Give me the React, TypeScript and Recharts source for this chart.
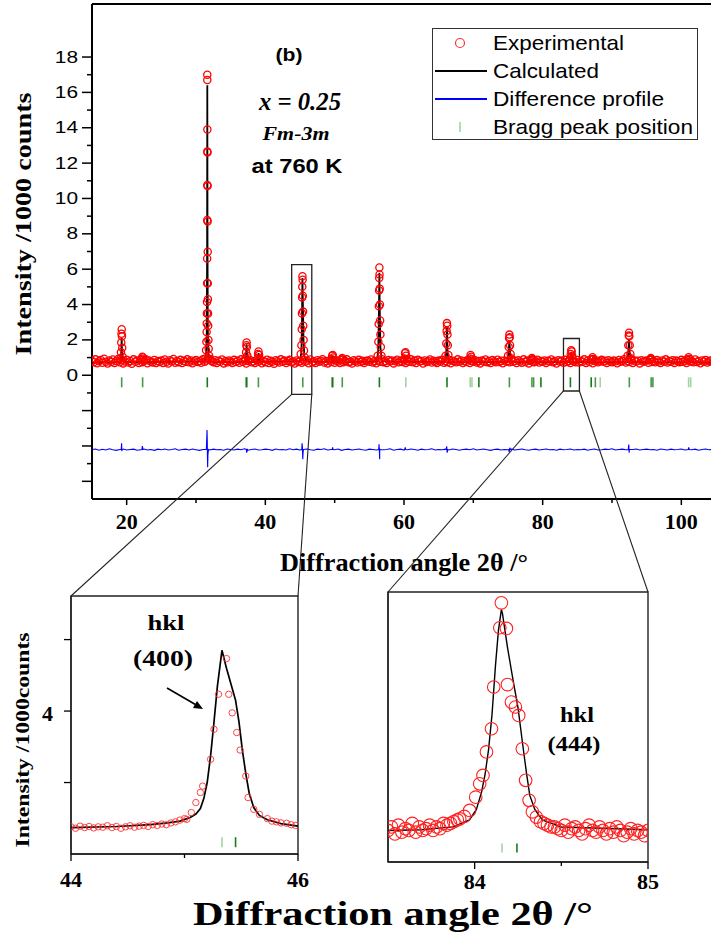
import React from 'react';
import {
  ComposedChart, Scatter, Line, XAxis, YAxis, ReferenceLine, ReferenceArea, Legend
} from 'recharts';

const SERIF = '"Liberation Serif", "Times New Roman", serif';
const SANS = '"Liberation Sans", Arial, sans-serif';

// ---- main pattern data (2θ in degrees, intensity in 1000 counts) ----
const BG_START = 15;
const BG_STEP = 0.25;
// observed background, one value per 0.25° from 15 to 105
const expBackground = [
  0.82, 0.74, 0.9, 0.68, 0.79, 0.86, 0.71, 0.93, 0.77, 0.66, 0.84, 0.75, 0.89, 0.7, 0.8, 0.92, 0.73, 0.85, 0.67, 0.78,
  0.88, 0.72, 0.81, 0.65, 0.9, 0.76, 0.83, 0.7, 0.87, 0.74, 0.79, 0.91, 0.68, 0.84, 0.77, 0.72, 0.86, 0.69, 0.8, 0.75,
  0.83, 0.7, 0.89, 0.76, 0.66, 0.85, 0.78, 0.92, 0.71, 0.8, 0.74, 0.87, 0.69, 0.82, 0.77, 0.9, 0.73, 0.84, 0.68, 0.79,
  0.86, 0.75, 0.81, 0.71, 0.9, 0.77, 0.83, 0.95, 0.88, 0.8, 0.74, 0.85, 0.7, 0.82, 0.76, 0.89, 0.67, 0.8, 0.73, 0.84,
  0.78, 0.69, 0.87, 0.75, 0.82, 0.71, 0.9, 0.77, 0.84, 0.66, 0.8, 0.88, 0.73, 0.79, 0.7, 0.86, 0.76, 0.83, 0.68, 0.81,
  0.74, 0.88, 0.7, 0.82, 0.77, 0.65, 0.85, 0.79, 0.72, 0.9, 0.76, 0.83, 0.69, 0.81, 0.87, 0.73, 0.78, 0.66, 0.84, 0.75,
  0.8, 0.71, 0.86, 0.77, 0.83, 0.68, 0.89, 0.74, 0.79, 0.7, 0.85, 0.76, 0.82, 0.91, 0.72, 0.8, 0.67, 0.84, 0.75, 0.88,
  0.71, 0.83, 0.78, 0.69, 0.86, 0.74, 0.81, 0.9, 0.73, 0.77, 0.66, 0.85, 0.79, 0.72, 0.87, 0.75, 0.82, 0.7, 0.8, 0.84,
  0.76, 0.89, 0.72, 0.81, 0.68, 0.84, 0.77, 0.92, 0.74, 0.8, 0.7, 0.86, 0.78, 0.83, 0.67, 0.79, 0.88, 0.73, 0.82, 0.75,
  0.85, 0.7, 0.8, 0.76, 0.9, 0.73, 0.83, 0.69, 0.87, 0.78, 0.81, 0.66, 0.84, 0.75, 0.79, 0.89, 0.72, 0.82, 0.77, 0.7,
  0.83, 0.76, 0.88, 0.71, 0.8, 0.74, 0.86, 0.68, 0.82, 0.79, 0.73, 0.9, 0.77, 0.84, 0.7, 0.81, 0.75, 0.87, 0.69, 0.8,
  0.78, 0.85, 0.72, 0.8, 0.67, 0.83, 0.76, 0.89, 0.74, 0.81, 0.7, 0.86, 0.79, 0.73, 0.88, 0.75, 0.82, 0.68, 0.84, 0.77,
  0.8, 0.73, 0.87, 0.76, 0.82, 0.69, 0.85, 0.78, 0.71, 0.9, 0.75, 0.83, 0.67, 0.8, 0.86, 0.74, 0.79, 0.88, 0.72, 0.81,
  0.76, 0.84, 0.7, 0.82, 0.78, 0.89, 0.73, 0.8, 0.66, 0.85, 0.77, 0.83, 0.71, 0.87, 0.75, 0.81, 0.69, 0.84, 0.79, 0.74,
  0.86, 0.72, 0.81, 0.77, 0.9, 0.7, 0.83, 0.75, 0.88, 0.68, 0.8, 0.84, 0.73, 0.79, 0.87, 0.76, 0.82, 0.7, 0.85, 0.78,
  0.74, 0.83, 0.79, 0.68, 0.86, 0.77, 0.81, 0.91, 0.72, 0.8, 0.75, 0.87, 0.7, 0.84, 0.78, 0.82, 0.67, 0.85, 0.76, 0.8,
  0.83, 0.71, 0.88, 0.75, 0.8, 0.73, 0.86, 0.78, 0.69, 0.84, 0.77, 0.9, 0.72, 0.81, 0.76, 0.85, 0.7, 0.83, 0.79, 0.74,
  0.87, 0.76, 0.82, 0.7, 0.85, 0.78, 0.8, 0.73, 0.89, 0.75, 0.81, 0.68, 0.84, 0.77, 0.86, 0.72, 0.8, 0.83, 0.75, 0.79,
  0.82,
];

// observed points on the reflections [2θ, I]
const expPeaks = [
  [19.12, 0.95], [19.18, 1.3], [19.22, 1.85], [19.26, 2.35], [19.29, 2.6], [19.32, 2.2], [19.36, 1.55], [19.42, 1.05],
  [22.15, 0.9], [22.25, 1.05], [22.35, 1.0], [22.45, 0.88],
  [31.35, 0.95], [31.45, 1.42], [31.5, 1.89], [31.53, 2.45], [31.55, 2.93], [31.57, 3.5], [31.59, 4.15], [31.6, 5.2],
  [31.61, 6.61], [31.62, 8.78], [31.63, 10.76], [31.63, 12.65], [31.64, 13.9], [31.63, 16.7], [31.63, 17.0],
  [31.66, 12.6], [31.67, 10.7], [31.68, 8.7], [31.69, 6.99], [31.7, 5.2], [31.72, 4.3], [31.74, 3.5], [31.76, 2.8],
  [31.79, 2.0], [31.83, 1.5], [31.9, 1.1], [32.0, 0.92],
  [37.15, 0.95], [37.22, 1.3], [37.27, 1.7], [37.3, 1.85], [37.34, 1.6], [37.4, 1.1],
  [38.85, 0.9], [38.95, 1.2], [39.02, 1.35], [39.1, 1.15], [39.2, 0.9],
  [45.1, 1.2], [45.2, 1.7], [45.25, 2.6], [45.28, 3.5], [45.3, 4.4], [45.33, 5.0], [45.35, 5.6], [45.38, 5.4],
  [45.41, 4.5], [45.44, 3.6], [45.47, 2.8], [45.52, 2.0], [45.58, 1.4], [45.68, 1.0],
  [49.55, 0.9], [49.65, 1.1], [49.72, 1.15], [49.8, 1.0],
  [51.0, 0.9], [51.1, 0.98], [51.2, 0.88],
  [56.2, 1.1], [56.3, 1.9], [56.35, 2.9], [56.38, 3.9], [56.41, 4.8], [56.43, 5.5], [56.45, 6.1], [56.47, 5.7],
  [56.5, 4.9], [56.53, 4.0], [56.56, 3.1], [56.6, 2.3], [56.66, 1.6], [56.75, 1.1],
  [60.05, 0.95], [60.15, 1.25], [60.22, 1.3], [60.3, 1.1], [60.4, 0.9],
  [66.0, 1.1], [66.1, 1.8], [66.15, 2.5], [66.19, 2.95], [66.23, 2.8], [66.27, 2.3], [66.32, 1.7], [66.4, 1.15],
  [69.5, 0.95], [69.6, 1.15], [69.7, 1.05], [69.8, 0.9],
  [75.0, 1.1], [75.1, 1.6], [75.16, 2.1], [75.2, 2.3], [75.25, 2.15], [75.3, 1.7], [75.38, 1.2], [75.5, 0.95],
  [78.35, 0.88], [78.45, 0.97], [78.55, 0.9],
  [83.95, 0.95], [84.05, 1.2], [84.12, 1.42], [84.18, 1.35], [84.26, 1.1], [84.35, 0.92],
  [87.1, 0.9], [87.2, 1.02], [87.3, 0.92],
  [92.25, 1.1], [92.35, 1.7], [92.42, 2.25], [92.46, 2.4], [92.5, 2.2], [92.56, 1.7], [92.65, 1.2], [92.78, 0.95],
  [95.5, 0.88], [95.6, 0.97], [95.7, 0.9],
  [100.9, 0.9], [101.05, 1.02], [101.2, 0.92],
];

// calculated profile [2θ, I]
const calcProfile = [
  [15, 0.72],
  [19.0, 0.74], [19.18, 0.95], [19.24, 1.5], [19.28, 2.1], [19.32, 1.45], [19.4, 0.92], [19.6, 0.75],
  [22.1, 0.73], [22.25, 0.82], [22.4, 0.74],
  [31.2, 0.78], [31.45, 1.1], [31.55, 2.2], [31.6, 6.5], [31.63, 16.4], [31.66, 7.5], [31.7, 2.6], [31.8, 1.2], [32.05, 0.82], [32.5, 0.74],
  [37.1, 0.74], [37.22, 1.05], [37.3, 1.75], [37.36, 1.05], [37.5, 0.75],
  [38.85, 0.74], [38.96, 0.98], [39.02, 1.25], [39.1, 0.95], [39.25, 0.74],
  [45.0, 0.8], [45.2, 1.3], [45.28, 2.8], [45.35, 5.5], [45.42, 3.9], [45.5, 2.0], [45.62, 1.1], [45.9, 0.78],
  [49.55, 0.74], [49.7, 1.05], [49.85, 0.75],
  [51.0, 0.73], [51.1, 0.88], [51.2, 0.73],
  [56.1, 0.78], [56.3, 1.5], [56.4, 4.0], [56.45, 5.8], [56.5, 3.8], [56.6, 1.6], [56.8, 0.8],
  [60.05, 0.74], [60.18, 1.05], [60.3, 0.75],
  [65.95, 0.76], [66.1, 1.3], [66.2, 2.75], [66.28, 1.3], [66.45, 0.76],
  [69.45, 0.73], [69.6, 1.0], [69.75, 0.74],
  [74.95, 0.76], [75.1, 1.3], [75.2, 1.95], [75.3, 1.25], [75.5, 0.76],
  [78.3, 0.73], [78.45, 0.85], [78.6, 0.73],
  [83.9, 0.75], [84.05, 1.0], [84.13, 1.3], [84.22, 1.05], [84.35, 0.76],
  [87.05, 0.73], [87.2, 0.9], [87.35, 0.73],
  [92.2, 0.76], [92.36, 1.3], [92.45, 2.05], [92.55, 1.25], [92.75, 0.76],
  [95.45, 0.73], [95.6, 0.85], [95.75, 0.73],
  [100.85, 0.73], [101.05, 0.9], [101.25, 0.73],
  [105, 0.72],
];

// difference profile, one value per 0.5° from 15 to 105, plus the wiggles at the reflections
const DIFF_START = 15;
const DIFF_STEP = 0.5;
const diffBackground = [
  -4.2, -4.17, -4.24, -4.19, -4.23, -4.16, -4.21, -4.25, -4.2, -4.17, -4.23, -4.2, -4.18, -4.24, -4.21, -4.17, -4.23, -4.2, -4.25, -4.18,
  -4.21, -4.17, -4.23, -4.2, -4.16, -4.24, -4.2, -4.18, -4.23, -4.17, -4.21, -4.25, -4.2, -4.16, -4.23, -4.18, -4.21, -4.2, -4.24, -4.17,
  -4.2, -4.23, -4.18, -4.21, -4.16, -4.24, -4.2, -4.17, -4.23, -4.21, -4.18, -4.2, -4.25, -4.17, -4.21, -4.2, -4.23, -4.16, -4.21, -4.18,
  -4.23, -4.2, -4.17, -4.21, -4.24, -4.18, -4.2, -4.16, -4.23, -4.2, -4.21, -4.17, -4.25, -4.2, -4.18, -4.23, -4.2, -4.17, -4.21, -4.24,
  -4.18, -4.2, -4.23, -4.17, -4.21, -4.2, -4.16, -4.24, -4.2, -4.18, -4.23, -4.21, -4.17, -4.2, -4.24, -4.18, -4.21, -4.2, -4.16, -4.23,
  -4.2, -4.21, -4.18, -4.23, -4.17, -4.2, -4.24, -4.2, -4.18, -4.21, -4.16, -4.23, -4.2, -4.17, -4.21, -4.25, -4.2, -4.18, -4.23, -4.2,
  -4.21, -4.18, -4.23, -4.2, -4.17, -4.21, -4.24, -4.2, -4.18, -4.23, -4.2, -4.17, -4.21, -4.2, -4.24, -4.18, -4.21, -4.2, -4.17, -4.23,
  -4.2, -4.21, -4.18, -4.24, -4.2, -4.17, -4.23, -4.21, -4.18, -4.2, -4.16, -4.23, -4.2, -4.18, -4.21, -4.24, -4.2, -4.17, -4.23, -4.2,
  -4.18, -4.21, -4.2, -4.24, -4.17, -4.2, -4.23, -4.18, -4.21, -4.2, -4.17, -4.23, -4.2, -4.21, -4.18, -4.24, -4.2, -4.17, -4.21, -4.2,
  -4.2,
];
const diffPeaks = [
  [19.22, -4.2], [19.27, -3.85], [19.3, -4.3], [19.35, -4.2],
  [22.2, -4.2], [22.27, -4.0], [22.35, -4.2],
  [31.45, -4.2], [31.55, -3.6], [31.59, -3.1], [31.62, -3.6], [31.65, -4.6], [31.68, -5.2], [31.72, -4.5], [31.8, -4.2],
  [37.25, -4.2], [37.32, -4.38], [37.4, -4.2],
  [45.25, -4.2], [45.3, -3.85], [45.35, -4.1], [45.4, -4.75], [45.45, -4.35], [45.52, -4.2],
  [49.65, -4.2], [49.7, -4.08], [49.78, -4.2],
  [56.35, -4.2], [56.4, -3.9], [56.45, -4.3], [56.49, -4.75], [56.55, -4.2],
  [60.1, -4.2], [60.18, -4.08], [60.25, -4.2],
  [66.1, -4.2], [66.16, -4.02], [66.22, -4.38], [66.3, -4.2],
  [75.1, -4.2], [75.18, -4.35], [75.26, -4.1], [75.32, -4.2],
  [92.35, -4.2], [92.42, -3.92], [92.48, -4.38], [92.55, -4.2],
  [101.0, -4.2], [101.06, -4.08], [101.15, -4.2],
];

// Bragg reflection markers: position and shade (d = dark, m = medium, l = light)
const braggPos = [19.28, 22.3, 31.63, 37.25, 37.32, 39.0, 45.4, 49.65, 49.72, 51.1, 56.45, 60.26, 66.2, 69.55, 69.8, 70.8, 75.2, 78.45, 78.7, 79.75, 84.0, 87.0, 87.6, 88.3, 92.5, 95.65, 95.9, 101.05, 101.35];
const braggShade = ['m', 'm', 'd', 'd', 'd', 'm', 'm', 'd', 'd', 'm', 'd', 'l', 'd', 'l', 'l', 'd', 'm', 'm', 'm', 'd', 'd', 'd', 'm', 'l', 'm', 'm', 'm', 'l', 'l'];
const BRAGG_LEVEL = -0.4;

const mainXTicks = [20, 30, 40, 50, 60, 70, 80, 90, 100];
const mainXLabels = [20, 40, 60, 80, 100];
const mainYTicks = [-6, -5, -4, -3, -2, -1, 0, 1, 2, 3, 4, 5, 6, 7, 8, 9, 10, 11, 12, 13, 14, 15, 16, 17, 18];

// ---- inset (400) ----
const IN1_START = 44.0;
const IN1_STEP = 0.04;
const in1Background = [0.76, 0.72, 0.78, 0.74, 0.77, 0.73, 0.76, 0.75, 0.79, 0.74, 0.77, 0.72, 0.76, 0.79, 0.75, 0.78, 0.8, 0.77, 0.82, 0.8];
const in1Peak = [
  [44.8, 0.84], [44.84, 0.82], [44.88, 0.87], [44.92, 0.9], [44.96, 0.95], [45.0, 0.99], [45.02, 0.97], [45.06, 1.16],
  [45.1, 1.44], [45.14, 1.72], [45.16, 1.9], [45.23, 2.65], [45.26, 3.49], [45.3, 4.47], [45.37, 5.47], [45.39, 4.47],
  [45.42, 3.95], [45.46, 3.4], [45.49, 2.91], [45.54, 2.18], [45.56, 1.58], [45.61, 1.25], [45.66, 1.11], [45.73, 0.99],
  [45.77, 0.92], [45.81, 0.9], [45.85, 0.87], [45.9, 0.86], [45.94, 0.82], [45.98, 0.8],
];
const in1Calc = [
  [44.0, 0.74], [44.4, 0.77], [44.7, 0.82], [44.85, 0.87], [44.96, 0.92], [45.05, 1.02], [45.1, 1.12], [45.14, 1.27],
  [45.17, 1.55], [45.2, 2.0], [45.23, 2.75], [45.26, 3.7], [45.29, 4.7], [45.33, 5.7], [45.37, 5.2], [45.41, 4.75],
  [45.45, 4.3], [45.48, 3.7], [45.51, 2.9], [45.54, 2.25], [45.57, 1.7], [45.61, 1.3], [45.66, 1.08], [45.73, 0.96],
  [45.85, 0.85], [46.0, 0.78],
];
const in1Bragg = [[45.33, 'l'], [45.45, 'd']];

// ---- inset (444) ----
const IN2_LEFT_START = 83.5;
const IN2_RIGHT_START = 84.46;
const IN2_STEP = 0.02;
const in2LeftBackground = [0.75, 0.76, 0.74, 0.765, 0.745, 0.755, 0.75, 0.77, 0.745, 0.76, 0.75, 0.755, 0.765, 0.75, 0.76, 0.755, 0.77, 0.765];
const in2RightBackground = [0.76, 0.755, 0.75, 0.765, 0.745, 0.755, 0.76, 0.75, 0.74, 0.755, 0.765, 0.75, 0.745, 0.76, 0.75, 0.74, 0.755, 0.745, 0.76, 0.75, 0.735, 0.745, 0.755, 0.74, 0.75, 0.745, 0.735, 0.75];
const in2Peak = [
  [83.86, 0.77], [83.88, 0.775], [83.9, 0.78], [83.914, 0.783], [83.94, 0.79], [83.971, 0.807], [84.006, 0.845],
  [84.029, 0.883], [84.048, 0.907], [84.068, 0.974], [84.097, 1.04], [84.11, 1.159], [84.145, 1.328], [84.154, 1.399],
  [84.183, 1.326], [84.189, 1.166], [84.212, 1.116], [84.235, 1.102], [84.254, 1.078], [84.275, 0.983], [84.294, 0.893],
  [84.314, 0.836], [84.333, 0.803], [84.356, 0.788], [84.38, 0.775], [84.4, 0.77], [84.42, 0.765], [84.44, 0.76],
];
const in2Calc = [
  [83.5, 0.75], [83.69, 0.752], [83.875, 0.76], [83.97, 0.78], [84.01, 0.81], [84.04, 0.86], [84.06, 0.91],
  [84.08, 0.98], [84.1, 1.08], [84.12, 1.22], [84.137, 1.32], [84.154, 1.38], [84.16, 1.37], [84.19, 1.27],
  [84.221, 1.18], [84.25, 1.1], [84.279, 0.988], [84.3, 0.91], [84.318, 0.85], [84.347, 0.81], [84.39, 0.78],
  [84.5, 0.76], [85.0, 0.752],
];
const in2Bragg = [[84.158, 'l'], [84.244, 'd']];

// ---- layout ----
const MAIN = { w: 716, h: 580, left: 92, top: 4, bottom: 499, xMin: 15, xMax: 105, yMin: -7, yMax: 21 };
const IN1 = { left: 71, top: 596, right: 298, bottom: 854 };
const IN2 = { left: 388, top: 592, right: 648, bottom: 862 };
const ZOOM1 = { x1: 43.8, x2: 46.7, y1: -1.08, y2: 6.26 };
const ZOOM2 = { x1: 83.0, x2: 85.3, y1: -0.89, y2: 2.08 };

const toXY = (pairs: number[][]) => pairs.map(([x, y]) => ({ x, y }));
const fromGrid = (start: number, step: number, ys: number[]) => ys.map((y, i) => ({ x: start + i * step, y }));

const expData = [...fromGrid(BG_START, BG_STEP, expBackground), ...toXY(expPeaks)];
const calcData = toXY(calcProfile);
const diffData = [...fromGrid(DIFF_START, DIFF_STEP, diffBackground), ...toXY(diffPeaks)].sort((a, b) => a.x - b.x);
const braggData = braggPos.map((x, i) => ({ x, y: BRAGG_LEVEL, shade: braggShade[i] }));

const in1Exp = [...fromGrid(IN1_START, IN1_STEP, in1Background), ...toXY(in1Peak)];
const in2Exp = [
  ...fromGrid(IN2_LEFT_START, IN2_STEP, in2LeftBackground),
  ...toXY(in2Peak),
  ...fromGrid(IN2_RIGHT_START, IN2_STEP, in2RightBackground),
];

const SHADES: Record<string, string> = { d: '#1a7a1a', m: '#479947', l: '#a3d3a3' };

const mx = (v: number) => MAIN.left + ((v - MAIN.xMin) / (MAIN.xMax - MAIN.xMin)) * (MAIN.w - MAIN.left);
const my = (v: number) => MAIN.top + ((MAIN.yMax - v) / (MAIN.yMax - MAIN.yMin)) * (MAIN.bottom - MAIN.top);

const ring = (r: number, sw: number, color = '#ff0000') => (p: any) =>
  <circle cx={p.cx} cy={p.cy} r={r} fill="none" stroke={color} strokeWidth={sw} />;

const braggMark = (half: number) => (p: any) =>
  <line x1={p.cx} x2={p.cx} y1={p.cy - half} y2={p.cy + half} stroke={SHADES[p.payload.shade]} strokeWidth={1.6} />;

// text squeezed/stretched to a measured width, centred on (x, y)
const SText = ({ x, y, w, size, family = SERIF, weight = 'bold', italic = false, anchor = 'middle', rotate = 0, children }: any) => (
  <text
    x={x} y={y} textLength={w} lengthAdjust="spacingAndGlyphs" fontSize={size} fontFamily={family}
    fontWeight={weight} fontStyle={italic ? 'italic' : 'normal'} textAnchor={anchor} dominantBaseline="central"
    transform={rotate ? `rotate(${rotate} ${x} ${y})` : undefined} fill="#000"
  >{children}</text>
);

const MainYTick = (p: any) => {
  const v = p.payload.value;
  const major = v % 2 === 0;
  const len = major ? 10 : 5;
  return (
    <g>
      <line x1={p.x} x2={p.x - len} y1={p.y} y2={p.y} stroke="#000" strokeWidth={1.5} />
      {major && v >= 0 && (
        <SText x={p.x - 14} y={p.y} w={String(v).length * 11.6} size={16} family={SANS} weight="normal" anchor="end">{v}</SText>
      )}
    </g>
  );
};

const MainXTick = (p: any) => {
  const v = p.payload.value;
  const major = mainXLabels.includes(v);
  return (
    <g>
      <line x1={p.x} x2={p.x} y1={p.y} y2={p.y + (major ? 6 : 4)} stroke="#000" strokeWidth={1.5} />
      {major && (
        <text x={p.x} y={p.y + 22} textAnchor="middle" dominantBaseline="central" fontFamily={SERIF} fontWeight="bold" fontSize={22}>{v}</text>
      )}
    </g>
  );
};

const insetXTick = (labels: number[], dy: number) => (p: any) => {
  const v = p.payload.value;
  const major = labels.includes(v);
  return (
    <g>
      <line x1={p.x} x2={p.x} y1={p.y} y2={p.y + (major ? 7 : 4)} stroke="#000" strokeWidth={1.3} />
      {major && (
        <text x={p.x} y={p.y + dy} textAnchor="middle" dominantBaseline="central" fontFamily={SERIF} fontWeight="bold" fontSize={22}>{v}</text>
      )}
    </g>
  );
};

const In1YTick = (p: any) => {
  const v = p.payload.value;
  return (
    <g>
      <line x1={p.x} x2={p.x - 7} y1={p.y} y2={p.y} stroke="#000" strokeWidth={1.3} />
      {v === 4 && (
        <text x={p.x - 18} y={p.y + 2} textAnchor="end" dominantBaseline="central" fontFamily={SERIF} fontWeight="bold" fontSize={22}>{v}</text>
      )}
    </g>
  );
};

const LegendBox = () => {
  const rowY = [15, 43, 71, 99];
  const labels = ['Experimental', 'Calculated', 'Difference profile', 'Bragg peak position'];
  const widths = [131, 106, 171, 200];
  return (
    <svg width={267} height={113} style={{ display: 'block' }}>
      <rect x={0.5} y={0.5} width={265} height={111} fill="#fff" stroke="#333" strokeWidth={1} />
      <circle cx={28} cy={rowY[0]} r={4.5} fill="none" stroke="#ff3030" strokeWidth={1.2} />
      <line x1={3} x2={55} y1={rowY[1]} y2={rowY[1]} stroke="#000" strokeWidth={2} />
      <line x1={3} x2={55} y1={rowY[2]} y2={rowY[2]} stroke="#0000ff" strokeWidth={2} />
      <line x1={28} x2={28} y1={rowY[3] - 5} y2={rowY[3] + 5} stroke={SHADES.l} strokeWidth={1.6} />
      {labels.map((t, i) => (
        <text key={t} x={61} y={rowY[i] + 7} textLength={widths[i]} lengthAdjust="spacingAndGlyphs"
          fontFamily={SANS} fontSize={21} fill="#000">{t}</text>
      ))}
    </svg>
  );
};

const axisLine = { stroke: '#000', strokeWidth: 2 };
const thinAxis = { stroke: '#222', strokeWidth: 1.4 };

const MainChart = () => (
  <ComposedChart width={MAIN.w} height={MAIN.h} margin={{ top: MAIN.top, right: 0, bottom: 0, left: 0 }}>
    <XAxis type="number" dataKey="x" domain={[MAIN.xMin, MAIN.xMax]} allowDataOverflow ticks={mainXTicks} interval={0}
      tickSize={0} tickMargin={0} tickLine={false} tick={MainXTick} axisLine={axisLine} height={MAIN.h - MAIN.bottom} />
    <YAxis type="number" dataKey="y" domain={[MAIN.yMin, MAIN.yMax]} allowDataOverflow ticks={mainYTicks} interval={0}
      tickSize={0} tickMargin={0} tickLine={false} tick={MainYTick} axisLine={axisLine} width={MAIN.left} />
    <ReferenceLine y={MAIN.yMax} stroke="#000" strokeWidth={2} />
    <Scatter data={expData} dataKey="y" shape={ring(3.6, 1.3)} isAnimationActive={false} />
    <Line data={calcData} dataKey="y" type="linear" stroke="#000" strokeWidth={1.8} dot={false} isAnimationActive={false} />
    <Line data={diffData} dataKey="y" type="linear" stroke="#0000ff" strokeWidth={1.1} dot={false} isAnimationActive={false} />
    <Scatter data={braggData} dataKey="y" shape={braggMark(5)} isAnimationActive={false} />
    <ReferenceArea x1={ZOOM1.x1} x2={ZOOM1.x2} y1={ZOOM1.y1} y2={ZOOM1.y2} fill="none" stroke="#222" strokeWidth={1.3} />
    <ReferenceArea x1={ZOOM2.x1} x2={ZOOM2.x2} y1={ZOOM2.y1} y2={ZOOM2.y2} fill="none" stroke="#222" strokeWidth={1.3} />
    <Legend layout="horizontal" verticalAlign="middle" align="center" content={() => <LegendBox />}
      wrapperStyle={{ left: 432, top: 28, width: 267, height: 113 }} />
  </ComposedChart>
);

const Inset1 = () => {
  const W = 310, H = 310, TOP = 590;
  return (
    <ComposedChart width={W} height={H} margin={{ top: IN1.top - TOP, right: W - IN1.right, bottom: 0, left: 0 }}>
      <XAxis type="number" dataKey="x" domain={[44, 46]} allowDataOverflow ticks={[44, 45, 46]} interval={0}
        tickSize={0} tickMargin={0} tickLine={false} tick={insetXTick([44, 46], 25)} axisLine={thinAxis} height={H - (IN1.bottom - TOP)} />
      <YAxis type="number" dataKey="y" domain={[0, 7.22]} allowDataOverflow ticks={[2, 4, 6]} interval={0}
        tickSize={0} tickMargin={0} tickLine={false} tick={In1YTick} axisLine={thinAxis} width={IN1.left} />
      <ReferenceArea x1={44} x2={46} y1={0} y2={7.22} fill="none" stroke="#222" strokeWidth={1.4} />
      <Scatter data={in1Exp} dataKey="y" shape={ring(3.2, 0.9, '#ff3030')} isAnimationActive={false} />
      <Line data={toXY(in1Calc)} dataKey="y" type="linear" stroke="#000" strokeWidth={1.7} dot={false} isAnimationActive={false} />
      <Scatter data={in1Bragg.map(([x, s]) => ({ x, y: 0.33, shade: s }))} dataKey="y" shape={braggMark(5)} isAnimationActive={false} />
    </ComposedChart>
  );
};

const Inset2 = () => {
  const W = 340, H = 320, LEFT = 330, TOP = 585;
  return (
    <ComposedChart width={W} height={H} margin={{ top: IN2.top - TOP, right: W - (IN2.right - LEFT), bottom: 0, left: 0 }}>
      <XAxis type="number" dataKey="x" domain={[83.5, 85]} allowDataOverflow ticks={[84, 84.5, 85]} interval={0}
        tickSize={0} tickMargin={0} tickLine={false} tick={insetXTick([84, 85], 19)} axisLine={thinAxis} height={H - (IN2.bottom - TOP)} />
      <YAxis type="number" dataKey="y" domain={[0.66, 1.43]} allowDataOverflow tick={false} tickLine={false}
        axisLine={thinAxis} width={IN2.left - LEFT} />
      <ReferenceArea x1={83.5} x2={85} y1={0.66} y2={1.43} fill="none" stroke="#222" strokeWidth={1.4} />
      <Scatter data={in2Exp} dataKey="y" shape={ring(6.3, 1.1, '#ff2020')} isAnimationActive={false} />
      <Line data={toXY(in2Calc)} dataKey="y" type="linear" stroke="#000" strokeWidth={1.4} dot={false} isAnimationActive={false} />
      <Scatter data={in2Bragg.map(([x, s]) => ({ x, y: 0.7, shade: s }))} dataKey="y" shape={braggMark(4.5)} isAnimationActive={false} />
    </ComposedChart>
  );
};

const Overlay = () => (
  <svg width={711} height={941} style={{ position: 'absolute', left: 0, top: 0, pointerEvents: 'none' }}>
    {/* zoom connectors */}
    <g stroke="#222" strokeWidth={1.1}>
      <line x1={mx(ZOOM1.x1)} y1={my(ZOOM1.y1)} x2={IN1.left} y2={IN1.top} />
      <line x1={mx(ZOOM1.x2)} y1={my(ZOOM1.y1)} x2={IN1.right} y2={IN1.top} />
      <line x1={mx(ZOOM2.x1)} y1={my(ZOOM2.y1)} x2={IN2.left} y2={IN2.top} />
      <line x1={mx(ZOOM2.x2)} y1={my(ZOOM2.y1)} x2={IN2.right} y2={IN2.top} />
    </g>

    <SText x={23} y={224} w={263} size={24} rotate={-90}>Intensity /1000 counts</SText>
    <SText x={404} y={562} w={248} size={25}>Diffraction angle 2θ /°</SText>

    <SText x={289} y={55} w={27} size={18} family={SANS}>(b)</SText>
    <SText x={300} y={101} w={82} size={25} italic>x = 0.25</SText>
    <SText x={296} y={134} w={67} size={18} italic>Fm-3m</SText>
    <SText x={297} y={165} w={91} size={21} family={SANS}>at 760 K</SText>

    <SText x={22} y={740} w={215} size={19} rotate={-90}>Intensity /1000counts</SText>
    <SText x={166} y={622} w={37} size={22}>hkl</SText>
    <SText x={163} y={658} w={60} size={24}>(400)</SText>
    <line x1={167} y1={688} x2={198} y2={706} stroke="#000" strokeWidth={1.6} />
    <polygon points="203,709 193,708 197,701" fill="#000" />

    <SText x={577} y={715} w={34} size={21}>hkl</SText>
    <SText x={574} y={743} w={53} size={22}>(444)</SText>

    <SText x={393} y={913} w={400} size={34}>Diffraction angle 2θ /°</SText>
  </svg>
);

export default function App() {
  return (
    <div style={{ position: 'absolute', left: 0, top: 0, width: 711, height: 941, overflow: 'hidden', background: '#fff' }}>
      <div style={{ position: 'absolute', left: 0, top: 0 }}><MainChart /></div>
      <div style={{ position: 'absolute', left: 0, top: 590 }}><Inset1 /></div>
      <div style={{ position: 'absolute', left: 330, top: 585 }}><Inset2 /></div>
      <Overlay />
    </div>
  );
}
